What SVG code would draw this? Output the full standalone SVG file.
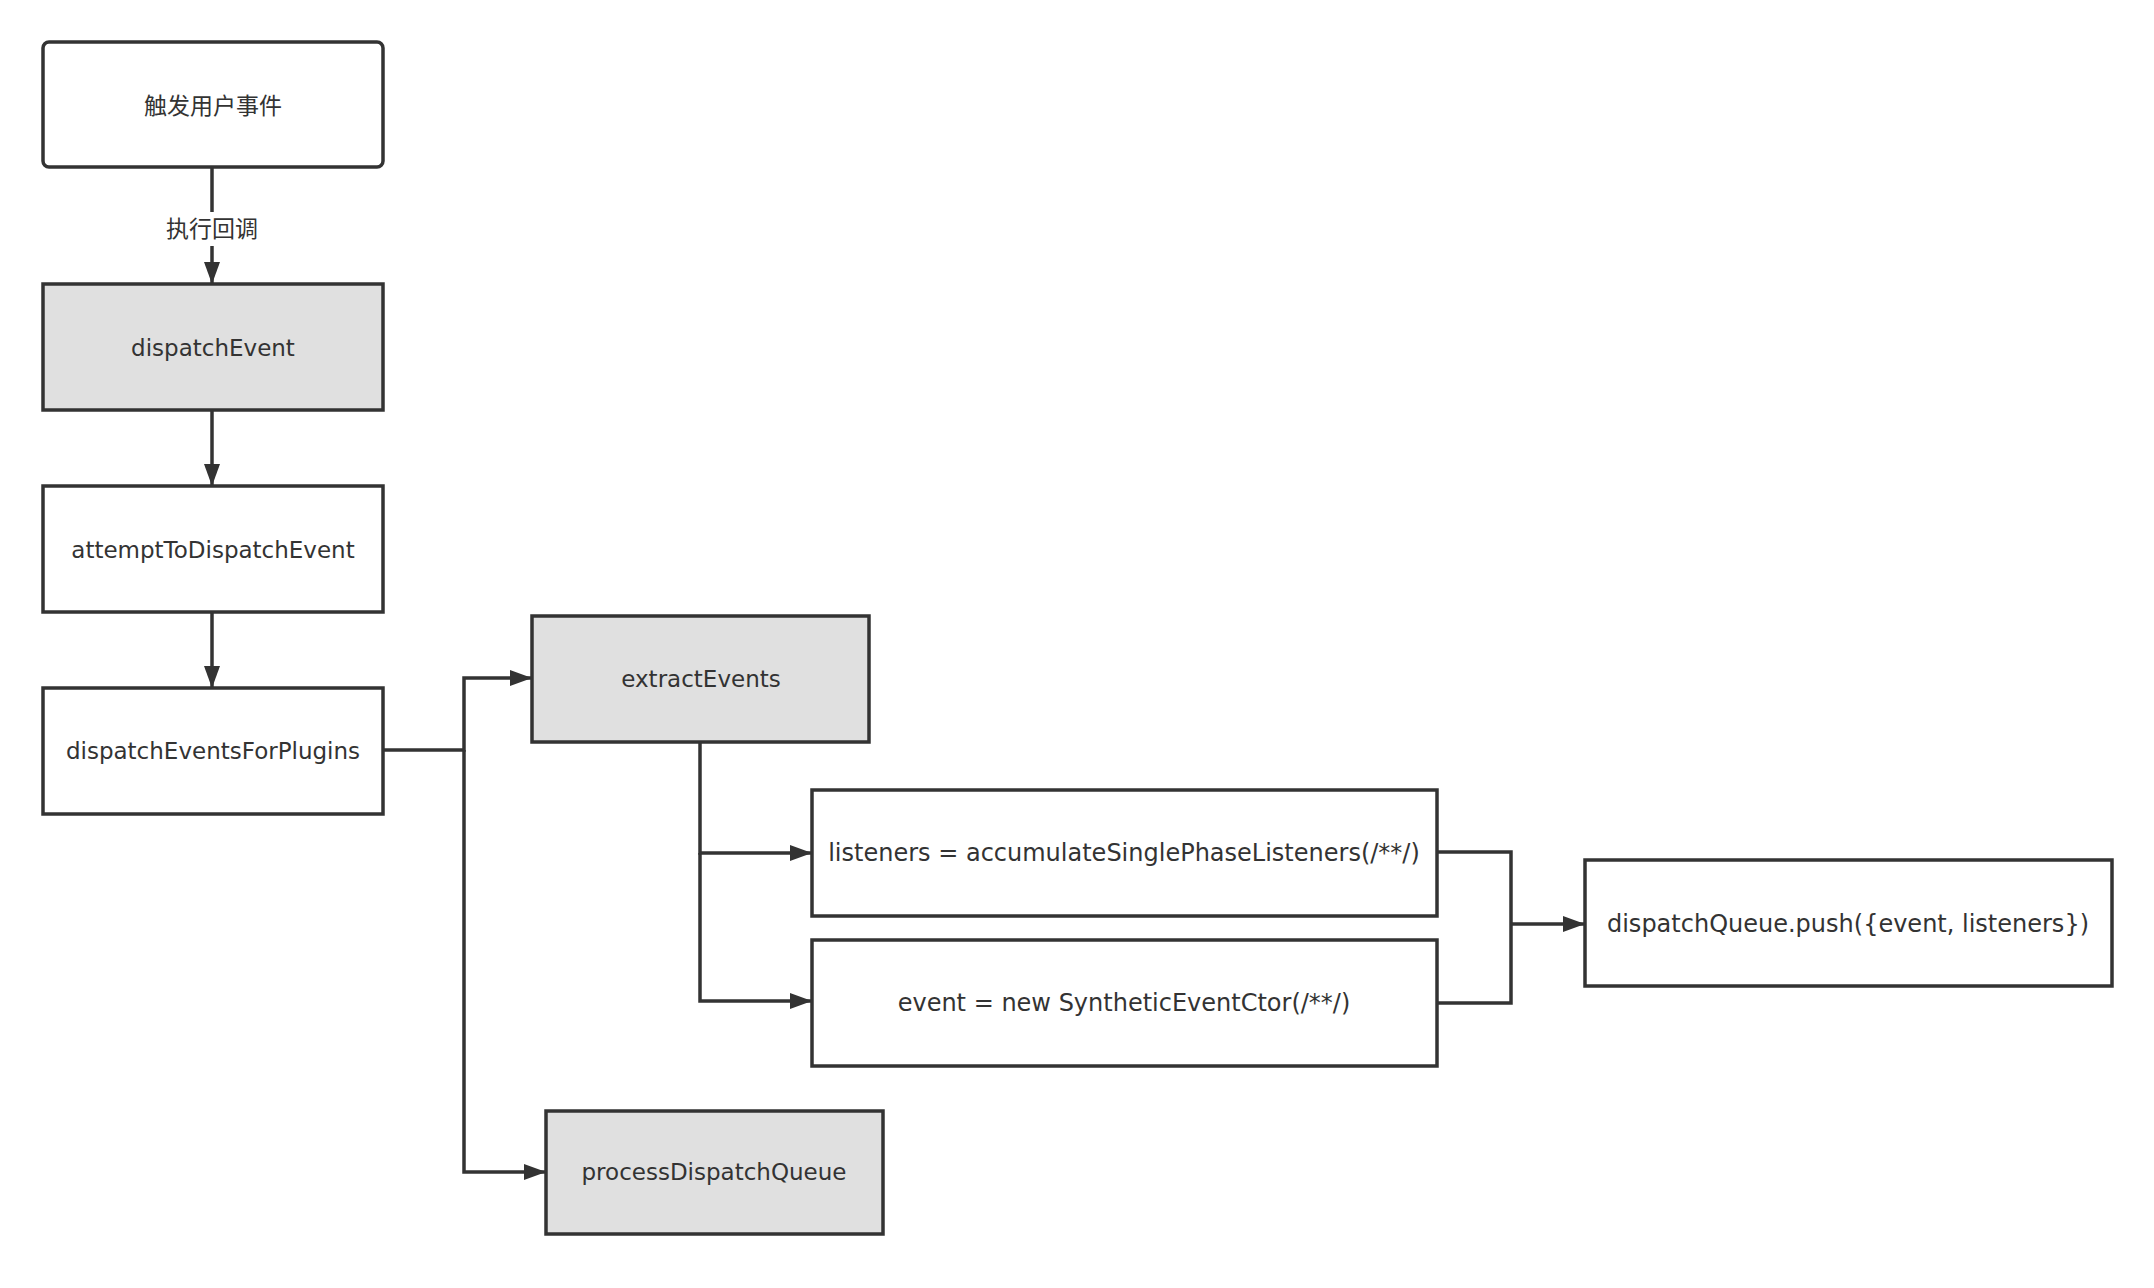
<svg xmlns="http://www.w3.org/2000/svg" width="2154" height="1288" viewBox="0 0 2154 1288">
<defs>
<marker id="arr" markerWidth="22" markerHeight="16" refX="22" refY="8" orient="auto" markerUnits="userSpaceOnUse" viewBox="0 0 22 16">
<path d="M0,0 L22,8 L0,16 Z" fill="#333"/>
</marker>
<style>
.box{fill:#fff;stroke:#333;stroke-width:3.5}
.gray{fill:#e0e0e0}
.t{font-family:"DejaVu Sans","Noto Sans CJK SC",sans-serif;font-size:23px;fill:#333;text-anchor:middle;dominant-baseline:central}
.w{font-size:24px}
.c{fill:none;stroke:#333;stroke-width:3.5}
</style>
</defs>
<rect width="2154" height="1288" fill="#fff"/>
<g id="connectors">
<path class="c" d="M212,167 V212"/>
<path class="c" d="M212,246 V284" marker-end="url(#arr)"/>
<text class="t" x="212" y="229">执行回调</text>
<path class="c" d="M212,410 V486" marker-end="url(#arr)"/>
<path class="c" d="M212,612 V688" marker-end="url(#arr)"/>
<path class="c" d="M383,750 H464 V678 H532" marker-end="url(#arr)"/>
<path class="c" d="M464,750 V1172 H546" marker-end="url(#arr)"/>
<path class="c" d="M700,742 V853 H812" marker-end="url(#arr)"/>
<path class="c" d="M700,853 V1001 H812" marker-end="url(#arr)"/>
<path class="c" d="M1437,852 H1511 V1003 H1437"/>
<path class="c" d="M1511,924 H1585" marker-end="url(#arr)"/>
</g>
<g id="n1"><rect class="box" x="43" y="42" width="340" height="125" rx="6"/><text class="t" x="213" y="106">触发用户事件</text></g>
<g id="n2"><rect class="box gray" x="43" y="284" width="340" height="126"/><text class="t" x="213" y="348">dispatchEvent</text></g>
<g id="n3"><rect class="box" x="43" y="486" width="340" height="126"/><text class="t" x="213" y="550">attemptToDispatchEvent</text></g>
<g id="n4"><rect class="box" x="43" y="688" width="340" height="126"/><text class="t" x="213" y="751">dispatchEventsForPlugins</text></g>
<g id="n5"><rect class="box gray" x="532" y="616" width="337" height="126"/><text class="t" x="701" y="679">extractEvents</text></g>
<g id="n6"><rect class="box gray" x="546" y="1111" width="337" height="123"/><text class="t" x="714" y="1172">processDispatchQueue</text></g>
<g id="n7"><rect class="box" x="812" y="790" width="625" height="126"/><text class="t w" x="1124" y="853">listeners = accumulateSinglePhaseListeners(/**/)</text></g>
<g id="n8"><rect class="box" x="812" y="940" width="625" height="126"/><text class="t w" x="1124" y="1003">event = new SyntheticEventCtor(/**/)</text></g>
<g id="n9"><rect class="box" x="1585" y="860" width="527" height="126"/><text class="t w" x="1848" y="924">dispatchQueue.push({event, listeners})</text></g>
</svg>
